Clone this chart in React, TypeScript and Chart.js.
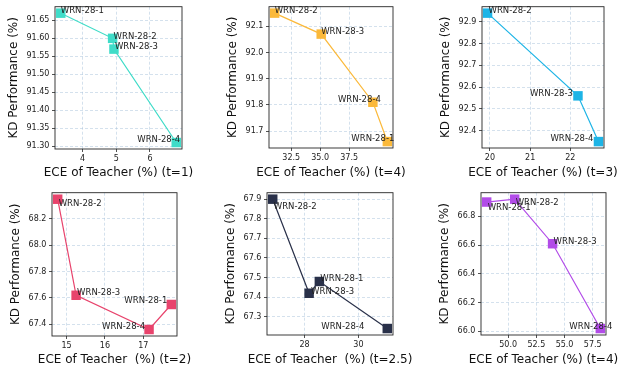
import React, { useEffect, useRef } from 'react';
import { Chart, registerables } from 'chart.js';

Chart.register(...registerables);
Chart.defaults.font.family = "'DejaVu Sans', sans-serif";

const Y_TITLE = 'KD Performance (%)';

// Panel 1 (t=1)
const p1Names = ['WRN-28-1', 'WRN-28-2', 'WRN-28-3', 'WRN-28-4'];
const p1X = [3.35, 4.89, 4.93, 6.78];
const p1Y = [91.67, 91.6, 91.57, 91.31];
const p1XTicks = [4, 5, 6];
const p1XTickLabels = ['4', '5', '6'];
const p1YTicks = [91.3, 91.35, 91.4, 91.45, 91.5, 91.55, 91.6, 91.65];
const p1YTickLabels = ['91.30', '91.35', '91.40', '91.45', '91.50', '91.55', '91.60', '91.65'];
const p1Title = 'ECE of Teacher (%) (t=1)';

// Panel 2 (t=4)
const p2Names = ['WRN-28-2', 'WRN-28-3', 'WRN-28-4', 'WRN-28-1'];
const p2X = [31.07, 35.09, 39.55, 40.8];
const p2Y = [92.15, 92.07, 91.81, 91.66];
const p2XTicks = [32.5, 35, 37.5];
const p2XTickLabels = ['32.5', '35.0', '37.5'];
const p2YTicks = [91.7, 91.8, 91.9, 92.0, 92.1];
const p2YTickLabels = ['91.7', '91.8', '91.9', '92.0', '92.1'];
const p2Title = 'ECE of Teacher (%) (t=4)';

// Panel 3 (t=3)
const p3Names = ['WRN-28-2', 'WRN-28-3', 'WRN-28-4'];
const p3X = [19.94, 22.19, 22.7];
const p3Y = [92.94, 92.56, 92.35];
const p3XTicks = [20, 21, 22];
const p3XTickLabels = ['20', '21', '22'];
const p3YTicks = [92.4, 92.5, 92.6, 92.7, 92.8, 92.9];
const p3YTickLabels = ['92.4', '92.5', '92.6', '92.7', '92.8', '92.9'];
const p3Title = 'ECE of Teacher (%) (t=3)';

// Panel 4 (t=2)
const p4Names = ['WRN-28-2', 'WRN-28-3', 'WRN-28-4', 'WRN-28-1'];
const p4X = [14.77, 15.25, 17.15, 17.73];
const p4Y = [68.35, 67.62, 67.36, 67.55];
const p4XTicks = [15, 16, 17];
const p4XTickLabels = ['15', '16', '17'];
const p4YTicks = [67.4, 67.6, 67.8, 68.0, 68.2];
const p4YTickLabels = ['67.4', '67.6', '67.8', '68.0', '68.2'];
const p4Title = 'ECE of Teacher  (%) (t=2)';

// Panel 5 (t=2.5)
const p5Names = ['WRN-28-2', 'WRN-28-3', 'WRN-28-1', 'WRN-28-4'];
const p5X = [26.82, 28.17, 28.55, 31.07];
const p5Y = [67.9, 67.42, 67.48, 67.24];
const p5XTicks = [28, 30];
const p5XTickLabels = ['28', '30'];
const p5YTicks = [67.3, 67.4, 67.5, 67.6, 67.7, 67.8, 67.9];
const p5YTickLabels = ['67.3', '67.4', '67.5', '67.6', '67.7', '67.8', '67.9'];
const p5Title = 'ECE of Teacher  (%) (t=2.5)';

// Panel 6 (t=4)
const p6Names = ['WRN-28-1', 'WRN-28-2', 'WRN-28-3', 'WRN-28-4'];
const p6X = [48.1, 50.58, 53.94, 58.17];
const p6Y = [66.9, 66.92, 66.61, 66.02];
const p6XTicks = [50, 52.5, 55, 57.5];
const p6XTickLabels = ['50.0', '52.5', '55.0', '57.5'];
const p6YTicks = [66.0, 66.2, 66.4, 66.6, 66.8];
const p6YTickLabels = ['66.0', '66.2', '66.4', '66.6', '66.8'];
const p6Title = 'ECE of Teacher (%) (t=4)';

// layout / style (cell = canvas rect, plot = axes rect, in page px)
const PANELS = [
  { names: p1Names, x: p1X, y: p1Y, xTicks: p1XTicks, xTickLabels: p1XTickLabels, yTicks: p1YTicks, yTickLabels: p1YTickLabels, xTitle: p1Title,
    cell: [0, 0, 210, 186], plot: [55, 5, 182, 149], color: '#3fdcc8', yTitleDist: 41, xTitleY: 172.5,
    offsets: [[0, 0], [1, 1], [1, 0], [-39, -1]] },
  { names: p2Names, x: p2X, y: p2Y, xTicks: p2XTicks, xTickLabels: p2XTickLabels, yTicks: p2YTicks, yTickLabels: p2YTickLabels, xTitle: p2Title,
    cell: [210, 0, 420, 186], plot: [269, 5, 393, 148], color: '#fbb93a', yTitleDist: 36.4, xTitleY: 172.5,
    offsets: [[0, 0], [0, 0], [-35, 0], [-36, -1]] },
  { names: p3Names, x: p3X, y: p3Y, xTicks: p3XTicks, xTickLabels: p3XTickLabels, yTicks: p3YTicks, yTickLabels: p3YTickLabels, xTitle: p3Title,
    cell: [420, 0, 632, 186], plot: [482, 5, 604, 148], color: '#1db4e6', yTitleDist: 36.4, xTitleY: 172.5,
    offsets: [[1, 0], [-48, 0], [-48, -1]] },
  { names: p4Names, x: p4X, y: p4Y, xTicks: p4XTicks, xTickLabels: p4XTickLabels, yTicks: p4YTicks, yTickLabels: p4YTickLabels, xTitle: p4Title,
    cell: [0, 186, 210, 373], plot: [52, 192, 177, 336], color: '#e8436c', yTitleDist: 36.4, xTitleY: 360,
    offsets: [[1, 7], [1, 0], [-47, 0], [-47, -1]] },
  { names: p5Names, x: p5X, y: p5Y, xTicks: p5XTicks, xTickLabels: p5XTickLabels, yTicks: p5YTicks, yTickLabels: p5YTickLabels, xTitle: p5Title,
    cell: [210, 186, 420, 373], plot: [267, 191, 393, 335], color: '#293049', yTitleDist: 36.4, xTitleY: 360,
    offsets: [[1, 10], [2, 1], [1, 0], [-66, 0]] },
  { names: p6Names, x: p6X, y: p6Y, xTicks: p6XTicks, xTickLabels: p6XTickLabels, yTicks: p6YTicks, yTickLabels: p6YTickLabels, xTitle: p6Title,
    cell: [420, 186, 632, 373], plot: [481, 191, 606, 335], color: '#b24ce8', yTitleDist: 36.4, xTitleY: 360,
    offsets: [[1, 8], [1, 6], [1, 0], [-31, 0]] },
];

const GRID_COLOR = 'rgba(165,192,218,0.6)';
const TEXT_COLOR = '#222';

function margins(vals: number[]) {
  const mn = Math.min(...vals);
  const mx = Math.max(...vals);
  const m = (mx - mn) * 0.05;
  return [mn - m, mx + m];
}

const framePlugin = {
  id: 'frame',
  afterDatasetsDraw(chart: any) {
    const { ctx, chartArea } = chart;
    ctx.save();
    ctx.strokeStyle = '#262626';
    ctx.lineWidth = 0.9;
    ctx.strokeRect(chartArea.left, chartArea.top, chartArea.right - chartArea.left, chartArea.bottom - chartArea.top);
    ctx.restore();
  },
};

function Panel({ cfg }: { cfg: any }) {
  const ref = useRef<HTMLCanvasElement>(null);
  useEffect(() => {
    const [cl, ct, cr, cb] = cfg.cell;
    const [pl, pt, pr, pb] = cfg.plot;
    const [xmin, xmax] = margins(cfg.x);
    const [ymin, ymax] = margins(cfg.y);
    const tickLen = 3;
    const tickPad = 2.6;
    const labelPlugin = {
      id: 'pointLabels',
      afterDatasetsDraw(chart: any) {
        const { ctx } = chart;
        const meta = chart.getDatasetMeta(0);
        ctx.save();
        ctx.font = "8.5px 'DejaVu Sans'";
        ctx.fillStyle = TEXT_COLOR;
        ctx.textAlign = 'left';
        ctx.textBaseline = 'alphabetic';
        meta.data.forEach((el: any, i: number) => {
          const [dx, dy] = cfg.offsets[i];
          ctx.fillText(cfg.names[i], el.x + dx, el.y + dy);
        });
        ctx.restore();
      },
    };
    const xTitlePlugin = {
      id: 'xTitle',
      afterDraw(chart: any) {
        const { ctx, chartArea } = chart;
        ctx.save();
        ctx.font = "12px 'DejaVu Sans'";
        ctx.fillStyle = '#111';
        ctx.textAlign = 'center';
        ctx.textBaseline = 'middle';
        ctx.fillText(cfg.xTitle, (chartArea.left + chartArea.right) / 2, cfg.xTitleY - ct);
        ctx.restore();
      },
    };
    const axisCommon = {
      type: 'linear' as const,
      grid: {
        color: GRID_COLOR,
        lineWidth: 0.8,
        tickLength: tickLen,
        tickColor: '#262626',
        tickWidth: 0.8,
        tickBorderDash: [],
      },
      border: { display: false, dash: [3, 2] },
    };
    const chart = new Chart(ref.current as HTMLCanvasElement, {
      type: 'scatter',
      data: {
        datasets: [
          {
            data: cfg.x.map((x: number, i: number) => ({ x, y: cfg.y[i] })),
            showLine: true,
            borderColor: cfg.color,
            backgroundColor: cfg.color,
            borderWidth: 1.2,
            pointStyle: 'rect',
            pointRadius: 6.7,
            pointHoverRadius: 6.7,
            pointBorderWidth: 0,
            clip: false as any,
          } as any,
        ],
      },
      options: {
        animation: false,
        responsive: false,
        events: [],
        layout: { padding: { left: 0, top: pt - ct, right: cr - pr, bottom: 0 } },
        plugins: { legend: { display: false }, tooltip: { enabled: false } },
        scales: {
          x: {
            ...axisCommon,
            position: 'bottom',
            min: xmin,
            max: xmax,
            afterFit: (s: any) => {
              s.height = cb - pb;
              s.paddingLeft = 0;
              s.paddingRight = 0;
            },
            afterBuildTicks: (s: any) => {
              s.ticks = cfg.xTicks.map((v: number) => ({ value: v }));
            },
            ticks: {
              callback: (_v: any, i: number) => cfg.xTickLabels[i],
              font: { size: 8 },
              color: TEXT_COLOR,
              padding: tickPad,
              autoSkip: false,
              maxRotation: 0,
            },
            title: { display: false },
          },
          y: {
            ...axisCommon,
            position: 'left',
            min: ymin,
            max: ymax,
            afterFit: (s: any) => {
              s.width = pl - cl;
              s.paddingTop = 0;
              s.paddingBottom = 0;
            },
            afterBuildTicks: (s: any) => {
              s.ticks = cfg.yTicks.map((v: number) => ({ value: v }));
            },
            ticks: {
              callback: (_v: any, i: number) => cfg.yTickLabels[i],
              font: { size: 8 },
              color: TEXT_COLOR,
              padding: tickPad,
              autoSkip: false,
            },
            title: {
              display: true,
              text: Y_TITLE,
              font: { size: 12 },
              color: '#111',
              padding: { top: pl - cl - cfg.yTitleDist - 7.2, bottom: 0 },
            },
          },
        } as any,
      },
      plugins: [framePlugin, labelPlugin, xTitlePlugin],
    });
    return () => chart.destroy();
  }, [cfg]);
  const [cl, ct, cr, cb] = cfg.cell;
  return (
    <canvas
      ref={ref}
      width={cr - cl}
      height={cb - ct}
      style={{ position: 'absolute', left: cl, top: ct, width: cr - cl, height: cb - ct }}
    />
  );
}

export default function App() {
  return (
    <div style={{ position: 'absolute', left: 0, top: 0, width: 632, height: 373, background: '#fff', overflow: 'hidden' }}>
      {PANELS.map((p, i) => (
        <Panel key={i} cfg={p} />
      ))}
    </div>
  );
}
